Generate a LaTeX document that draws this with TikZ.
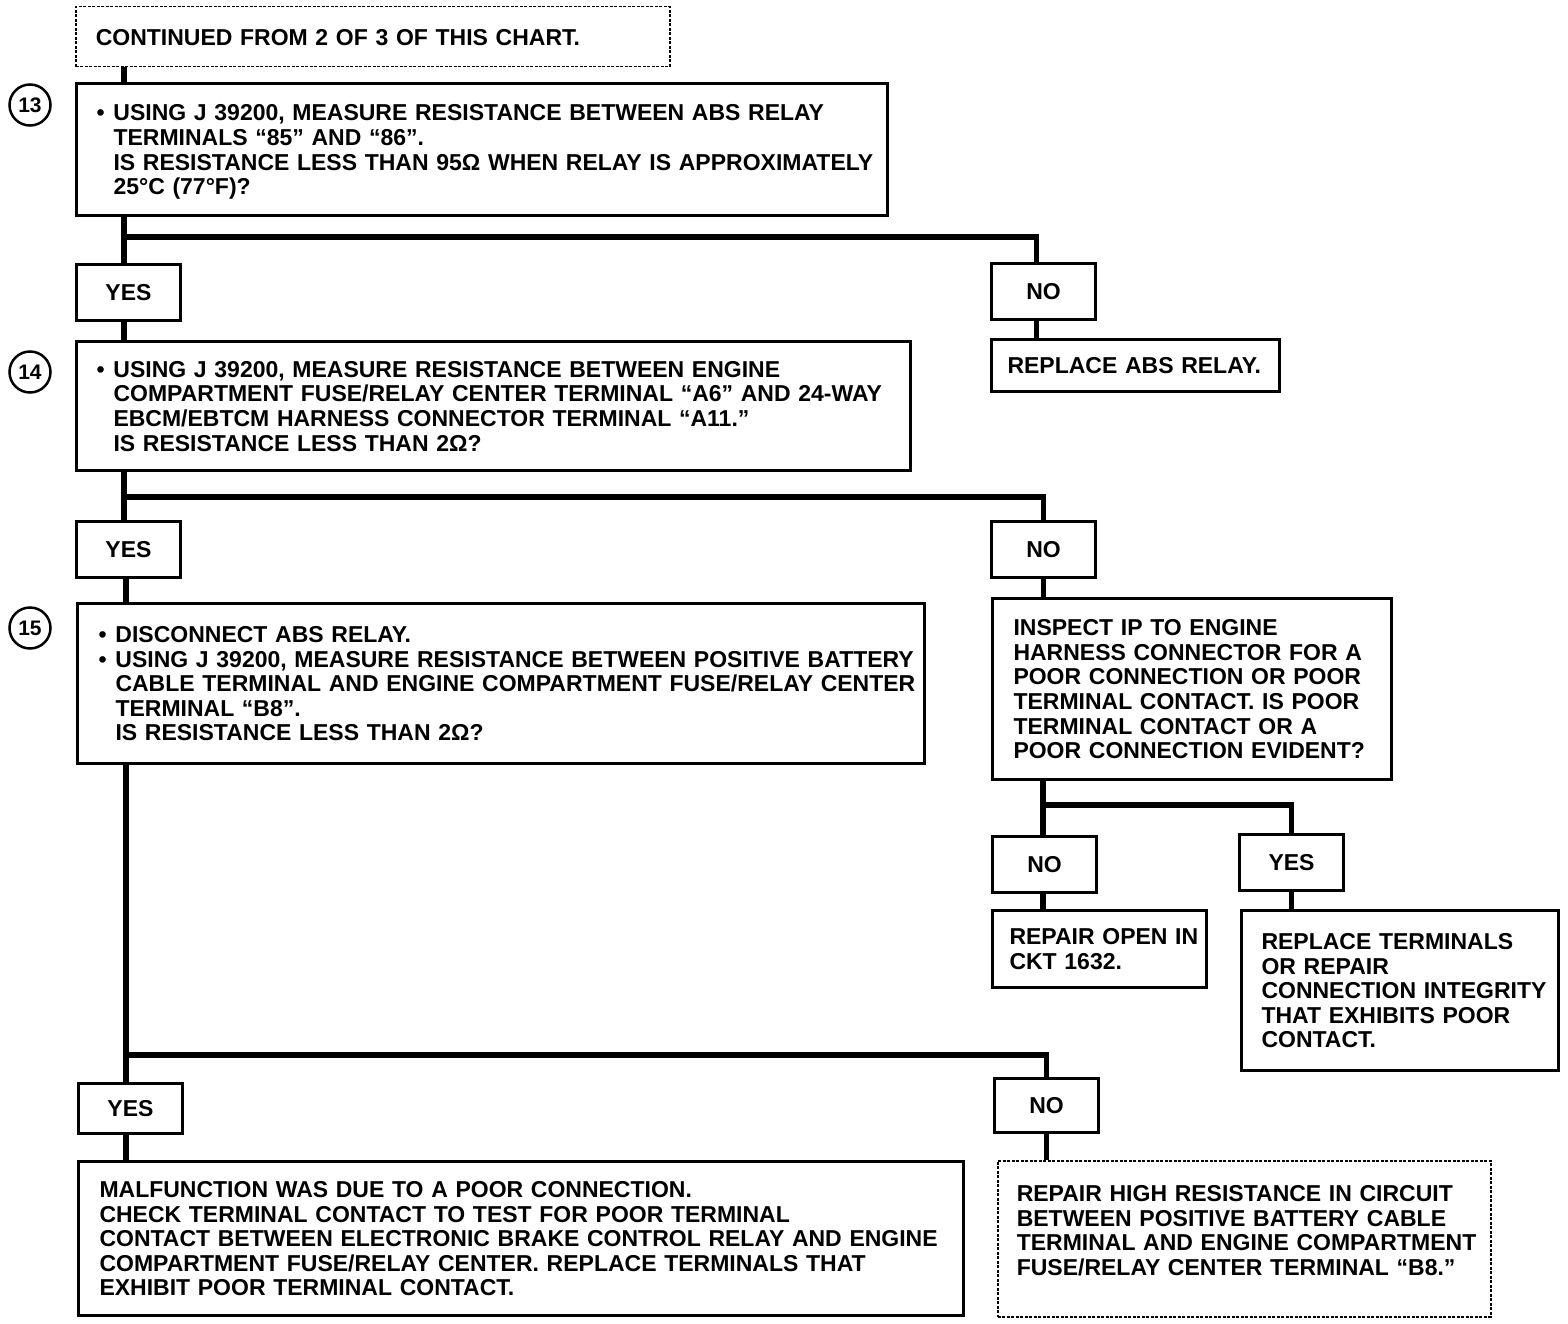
\documentclass[tikz,border=0pt]{standalone}
\usepackage{fontspec}
\setmainfont{Liberation Sans}
\usetikzlibrary{calc}
\newcommand\chartfont{\fontsize{23}{24.6}\selectfont\bfseries}
\newcommand\boxtext[1]{\begin{tabular}{@{}l@{}}\rule{0pt}{23.9pt}#1\end{tabular}}
\newcommand\bul{\makebox[17pt][l]{\textbullet}}
\newcommand\ind{\hspace*{17pt}}

\begin{document}
\begin{tikzpicture}[x=1pt, y=-1pt]
            \tikzset{box/.style = {draw, line width=3pt, anchor=north west, inner ysep=0pt, align=left, font=\chartfont}}
            \tikzset{dotbox/.style = {box, line width=1.5pt, dash pattern=on 3pt off 1.5pt}}
            \tikzset{answer/.style = {draw, line width=3pt, anchor=north west, minimum width=104pt, minimum height=56pt, inner sep=0pt, font=\chartfont}}
            \tikzset{stepnum/.style = {draw, circle, line width=2.5pt, minimum size=41pt, inner sep=0pt, font=\fontsize{21}{21}\selectfont\bfseries}}
            \tikzset{link/.style = {line width=5.5pt}}
            \useasboundingbox (0,0) rectangle (1568,1324);
            % steps
            \node[dotbox, inner xsep=20pt, text width=554pt, minimum height=60pt] (top) at (75,6)
                {\boxtext{CONTINUED FROM 2 OF 3 OF THIS CHART.}};
            \node[box, inner xsep=20pt, text width=771pt, minimum height=132pt] (s13) at (75,82)
                {\boxtext{\bul USING J 39200, MEASURE RESISTANCE BETWEEN ABS RELAY\\
                \ind TERMINALS “85” AND “86”.\\
                \ind IS RESISTANCE LESS THAN 95Ω WHEN RELAY IS APPROXIMATELY\\
                \ind 25°C (77°F)?}};
            \node[box, inner xsep=20pt, text width=794pt, minimum height=129pt] (s14) at (75,340)
                {\boxtext{\bul USING J 39200, MEASURE RESISTANCE BETWEEN ENGINE\\
                \ind COMPARTMENT FUSE/RELAY CENTER TERMINAL “A6” AND 24-WAY\\
                \ind EBCM/EBTCM HARNESS CONNECTOR TERMINAL “A11.”\\
                \ind IS RESISTANCE LESS THAN 2Ω?}};
            \node[box, inner xsep=21pt, text width=805pt, minimum height=160pt] (s15) at (76,602)
                {\boxtext{\bul DISCONNECT ABS RELAY.\\
                \bul USING J 39200, MEASURE RESISTANCE BETWEEN POSITIVE BATTERY\\
                \ind CABLE TERMINAL AND ENGINE COMPARTMENT FUSE/RELAY CENTER\\
                \ind TERMINAL “B8”.\\
                \ind IS RESISTANCE LESS THAN 2Ω?}};
            \node[stepnum] (c13) at (30,105) {13};
            \node[stepnum] (c14) at (30,372) {14};
            \node[stepnum] (c15) at (30,628) {15};
            % answers
            \node[answer] (yes1) at (75,263) {YES};
            \node[answer] (no1) at (990,262) {NO};
            \node[answer] (yes2) at (75,520) {YES};
            \node[answer] (no2) at (990,520) {NO};
            \node[answer] (no3) at (991,835) {NO};
            \node[answer] (yes3) at (1238,833) {YES};
            \node[answer, minimum height=50pt] (yes4) at (77,1082) {YES};
            \node[answer, minimum height=54pt] (no4) at (993,1077) {NO};
            % results
            \node[box, inner xsep=16pt, text width=256pt, minimum height=52pt] (relay) at (990,338)
                {\boxtext{REPLACE ABS RELAY.}};
            \node[box, inner xsep=21pt, text width=357pt, minimum height=181pt] (inspect) at (991,597)
                {\boxtext{INSPECT IP TO ENGINE\\
                HARNESS CONNECTOR FOR A\\
                POOR CONNECTION OR POOR\\
                TERMINAL CONTACT. IS POOR\\
                TERMINAL CONTACT OR A\\
                POOR CONNECTION EVIDENT?}};
            \node[box, inner xsep=17pt, text width=180pt, minimum height=77pt] (open) at (991,909)
                {\boxtext{REPAIR OPEN IN\\ CKT 1632.}};
            \node[box, inner xsep=20pt, text width=277pt, minimum height=160pt] (replace) at (1240,909)
                {\boxtext{REPLACE TERMINALS\\
                OR REPAIR\\
                CONNECTION INTEGRITY\\
                THAT EXHIBITS POOR\\
                CONTACT.}};
            \node[box, inner xsep=21pt, text width=843pt, minimum height=154pt] (malf) at (77,1160)
                {\boxtext{MALFUNCTION WAS DUE TO A POOR CONNECTION.\\
                CHECK TERMINAL CONTACT TO TEST FOR POOR TERMINAL\\
                CONTACT BETWEEN ELECTRONIC BRAKE CONTROL RELAY AND ENGINE\\
                COMPARTMENT FUSE/RELAY CENTER. REPLACE TERMINALS THAT\\
                EXHIBIT POOR TERMINAL CONTACT.}};
            \node[dotbox, inner xsep=19pt, text width=455pt, minimum height=156pt] (final) at (997,1160)
                {\boxtext{REPAIR HIGH RESISTANCE IN CIRCUIT\\
                BETWEEN POSITIVE BATTERY CABLE\\
                TERMINAL AND ENGINE COMPARTMENT\\
                FUSE/RELAY CENTER TERMINAL “B8.”\\[17pt]}};
            % junctions
            \coordinate (j13) at (124,237);
            \coordinate (j14) at (124,497);
            \coordinate (j15) at (126,1055);
            \coordinate (jins) at (1043,805);
            % connectors
            \draw[link] (top.south -| j13) -- (s13.north -| j13);
            \draw[link] (s13.south -| j13) -- (yes1.north -| j13);
            \draw[link] (j13) -| ([xshift=-7pt]no1.north);
            \draw[link] ([xshift=-7pt]no1.south) -- ([xshift=-7pt]relay.north -| no1.south);
            \draw[link] (yes1.south -| j13) -- (s14.north -| j13);
            \draw[link] (s14.south -| j14) -- (yes2.north -| j14);
            \draw[link] (j14) -| (no2.north);
            \draw[link] (yes2.south -| j15) -- (s15.north -| j15);
            \draw[link] (no2.south) -- (inspect.north -| no2.south);
            \draw[link] (inspect.south -| jins) -- (no3.north -| jins);
            \draw[link] (jins) -| (yes3.north);
            \draw[link] (no3.south -| jins) -- (open.north -| jins);
            \draw[link] (yes3.south) -- (replace.north -| yes3.south);
            \draw[link] (s15.south -| j15) -- (yes4.north -| j15);
            \draw[link] (j15) -| (no4.north);
            \draw[link] (yes4.south -| j15) -- (malf.north -| j15);
            \draw[link] (no4.south) -- (final.north -| no4.south);
\end{tikzpicture}
\end{document}
